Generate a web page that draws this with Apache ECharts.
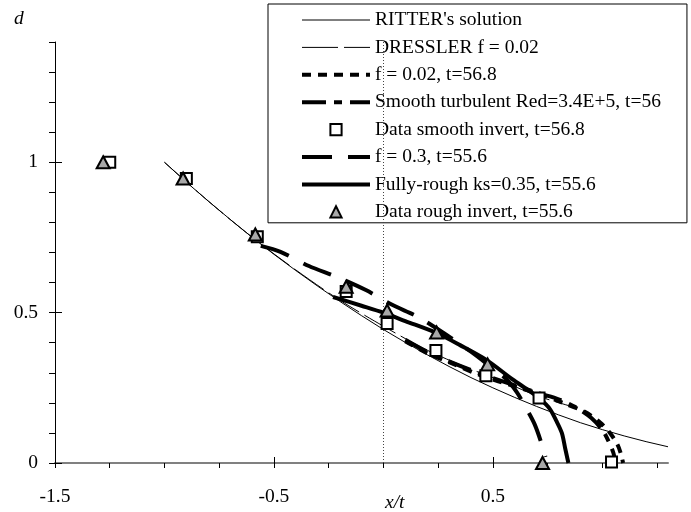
<!DOCTYPE html>
<html>
<head>
<meta charset="utf-8">
<script src="https://cdn.jsdelivr.net/npm/echarts@6/dist/echarts.min.js"></script>
<style>
  html, body { margin: 0; padding: 0; background: #fff; }
  #chart { width: 691px; height: 512px; }
</style>
</head>
<body>
<div id="chart"></div>
<script>
// Ritter's dam-break profile, depth d against x/t
const ritterX = [-1.0, -0.9, -0.8, -0.7, -0.6, -0.5, -0.4, -0.3, -0.2, -0.1, 0.0, 0.1,
                 0.2, 0.3, 0.4, 0.5, 0.6, 0.7, 0.8, 0.9, 1.0, 1.1, 1.2, 1.3];
const ritterD = [1.000, 0.934, 0.871, 0.810, 0.751, 0.694, 0.640, 0.588, 0.538, 0.490, 0.444, 0.401,
                 0.360, 0.321, 0.284, 0.250, 0.218, 0.188, 0.160, 0.134, 0.111, 0.090, 0.071, 0.054];

// Dressler, f = 0.02
const dresslerX = [-1.0, -0.8, -0.6, -0.4, -0.2, 0.0, 0.2, 0.4, 0.55, 0.7, 0.85];
const dresslerD = [1.0, 0.871, 0.751, 0.642, 0.542, 0.455, 0.375, 0.312, 0.27, 0.224, 0.19];

// f = 0.02, t = 56.8
const f002X = [0.1, 0.2, 0.3, 0.45, 0.6, 0.72, 0.82, 0.92, 0.99, 1.04, 1.07, 1.085, 1.095];
const f002D = [0.405, 0.365, 0.335, 0.29, 0.255, 0.228, 0.2, 0.17, 0.135, 0.095, 0.06, 0.03, 0.0];

// Smooth turbulent, Red = 3.4E+5, t = 56
const smoothX = [0.1, 0.2, 0.3, 0.45, 0.6, 0.72, 0.8, 0.88, 0.95, 1.0, 1.03, 1.05, 1.06];
const smoothD = [0.41, 0.37, 0.338, 0.295, 0.258, 0.23, 0.212, 0.185, 0.15, 0.11, 0.07, 0.035, 0.0];

// Measured, smooth bed, t = 56.8
const smoothDataX = [-1.25, -0.9, -0.576, -0.17, 0.017, 0.24, 0.468, 0.711, 1.042];
const smoothDataD = [1.0, 0.946, 0.752, 0.57, 0.464, 0.374, 0.29, 0.216, 0.003];

// f = 0.3, t = 55.6
const f03X = [-0.56, -0.47, -0.34, -0.21, -0.08, 0.04, 0.16, 0.28, 0.4, 0.49, 0.56, 0.61, 0.65, 0.69, 0.72, 0.74];
const f03D = [0.722, 0.702, 0.655, 0.618, 0.575, 0.526, 0.485, 0.43, 0.37, 0.32, 0.28, 0.235, 0.185, 0.13, 0.07, 0.02];

// Fully rough, ks = 0.35, t = 55.6
const roughX = [-0.23, -0.1, 0.0, 0.1, 0.24, 0.35, 0.47, 0.59, 0.67, 0.72, 0.76, 0.79, 0.815, 0.83, 0.845];
const roughD = [0.552, 0.523, 0.5, 0.472, 0.433, 0.392, 0.343, 0.278, 0.238, 0.21, 0.18, 0.14, 0.1, 0.05, 0.0];

// Measured, rough bed, t = 55.6
const roughDataX = [-1.28, -0.915, -0.585, -0.17, 0.017, 0.243, 0.476, 0.727];
const roughDataD = [1.0, 0.946, 0.76, 0.586, 0.507, 0.434, 0.328, 0.0];

// Axis ticks and labels
const xTickValues = [-1.5, -1.25, -1.0, -0.75, -0.5, -0.25, 0, 0.25, 0.5, 0.75, 1.0, 1.25];
const xLabelValues = [-1.5, -0.5, 0.5];
const xTickLabels = ['-1.5', '-0.5', '0.5'];
const yTickValues = [0, 0.1, 0.2, 0.3, 0.4, 0.5, 0.6, 0.7, 0.8, 0.9, 1.0, 1.1, 1.2, 1.3, 1.4];
const yLabelValues = [0, 0.5, 1];
const yTickLabels = ['0', '0.5', '1'];

const FONT = 'Liberation Serif';
const FS = 19.5;

function pairs(xs, ys) { return xs.map((x, i) => [x, ys[i]]); }
function labelFor(values, labels) {
  return v => {
    const i = values.findIndex(t => Math.abs(t - v) < 1e-6);
    return i >= 0 ? labels[i] : '';
  };
}

const names = [
  "RITTER's solution",
  'DRESSLER f = 0.02',
  'f = 0.02, t=56.8',
  'Smooth turbulent Red=3.4E+5, t=56',
  'Data smooth invert, t=56.8',
  'f = 0.3, t=55.6',
  'Fully-rough ks=0.35, t=55.6',
  'Data rough invert, t=55.6'
];

// A curve without markers; the transparent item colour keeps the legend icon a bare line.
function curve(name, xs, ys, width, type, z, smooth) {
  return {
    name, type: 'line', data: pairs(xs, ys),
    xAxisIndex: 0, yAxisIndex: 0,
    symbol: 'none', smooth: smooth,
    lineStyle: { color: '#000', width, type, cap: 'butt', join: 'round' },
    itemStyle: { color: 'rgba(0,0,0,0)', borderWidth: 0 },
    z: z, silent: true
  };
}

// Measured points only: the connecting line has zero width.
function points(name, xs, ys, symbol, size, fill, z) {
  return {
    name, type: 'line', data: pairs(xs, ys),
    xAxisIndex: 0, yAxisIndex: 0,
    symbol, symbolSize: size, showSymbol: true,
    lineStyle: { width: 0, color: '#000' },
    itemStyle: { color: fill, borderColor: '#000', borderWidth: 2 },
    z: z, silent: true
  };
}

const chart = echarts.init(document.getElementById('chart'), null, { renderer: 'canvas' });

const ritter = curve(names[0], ritterX, ritterD, 1, 'solid', 2, false);
ritter.markLine = {
  silent: true, symbol: ['none', 'none'],
  label: { show: false },
  lineStyle: { color: '#444', width: 1, type: [1, 2] },
  data: [{ xAxis: 0 }],
  animation: false
};

chart.setOption({
  animation: false,
  backgroundColor: '#fff',
  textStyle: { fontFamily: FONT },
  grid: { left: 55, right: 23, top: 42, bottom: 49, containLabel: false },
  xAxis: [{
    type: 'value', min: -1.5, max: 1.3, position: 'bottom',
    axisLine: { show: true, onZero: false, lineStyle: { color: '#808080', width: 2 } },
    axisTick: { show: true, inside: false, length: 5, customValues: xTickValues, lineStyle: { color: '#000', width: 1 } },
    axisLabel: { show: true, customValues: xLabelValues, formatter: labelFor(xLabelValues, xTickLabels),
                 fontFamily: FONT, fontSize: FS, color: '#000', margin: 24 },
    splitLine: { show: false }
  }, {
    type: 'value', min: -1.5, max: 1.3, position: 'bottom',
    axisLine: { show: false, onZero: false },
    axisTick: { show: true, inside: true, length: 6, customValues: xLabelValues, lineStyle: { color: '#000', width: 1 } },
    axisLabel: { show: false },
    splitLine: { show: false }
  }],
  yAxis: [{
    type: 'value', min: 0, max: 1.4, position: 'left',
    axisLine: { show: true, onZero: false, lineStyle: { color: '#000', width: 1 } },
    axisTick: { show: true, inside: false, length: 6, customValues: yTickValues, lineStyle: { color: '#000', width: 1 } },
    axisLabel: { show: true, customValues: yLabelValues, formatter: labelFor(yLabelValues, yTickLabels),
                 fontFamily: FONT, fontSize: FS, color: '#000', margin: 17 },
    splitLine: { show: false }
  }, {
    type: 'value', min: 0, max: 1.4, position: 'left',
    axisLine: { show: false, onZero: false },
    axisTick: { show: true, inside: true, length: 7, customValues: yLabelValues, lineStyle: { color: '#000', width: 1 } },
    axisLabel: { show: false },
    splitLine: { show: false }
  }],
  legend: {
    orient: 'vertical', left: 268, top: 4,
    padding: [6, 26, 1, 32],
    itemWidth: 68, itemHeight: 14, itemGap: 7.4,
    backgroundColor: '#fff', borderColor: '#000', borderWidth: 1, borderRadius: 0,
    textStyle: { fontFamily: FONT, fontSize: FS, color: '#000', lineHeight: 19 },
    lineStyle: { width: 'inherit' },
    selectedMode: false,
    data: names
  },
  graphic: [
    { type: 'text', left: 14, top: 9, style: { text: 'd', font: 'italic 19.5px "Liberation Serif"', fill: '#000' } },
    { type: 'text', left: 385, top: 493, style: { text: 'x/t', font: 'italic 19.5px "Liberation Serif"', fill: '#000' } }
  ],
  series: [
    ritter,
    curve(names[1], dresslerX, dresslerD, 1, [36, 6], 2, 0.3),
    curve(names[2], f002X, f002D, 4, [9, 7], 3, 0.3),
    curve(names[3], smoothX, smoothD, 4, [24, 8, 8, 8], 3, 0.3),
    points(names[4], smoothDataX, smoothDataD, 'rect', 11, '#fff', 6),
    curve(names[5], f03X, f03D, 4, [30, 16], 3, 0.3),
    curve(names[6], roughX, roughD, 4, 'solid', 3, 0.3),
    points(names[7], roughDataX, roughDataD, 'triangle', [13, 12], '#a8a8a8', 7)
  ]
});
</script>
</body>
</html>
